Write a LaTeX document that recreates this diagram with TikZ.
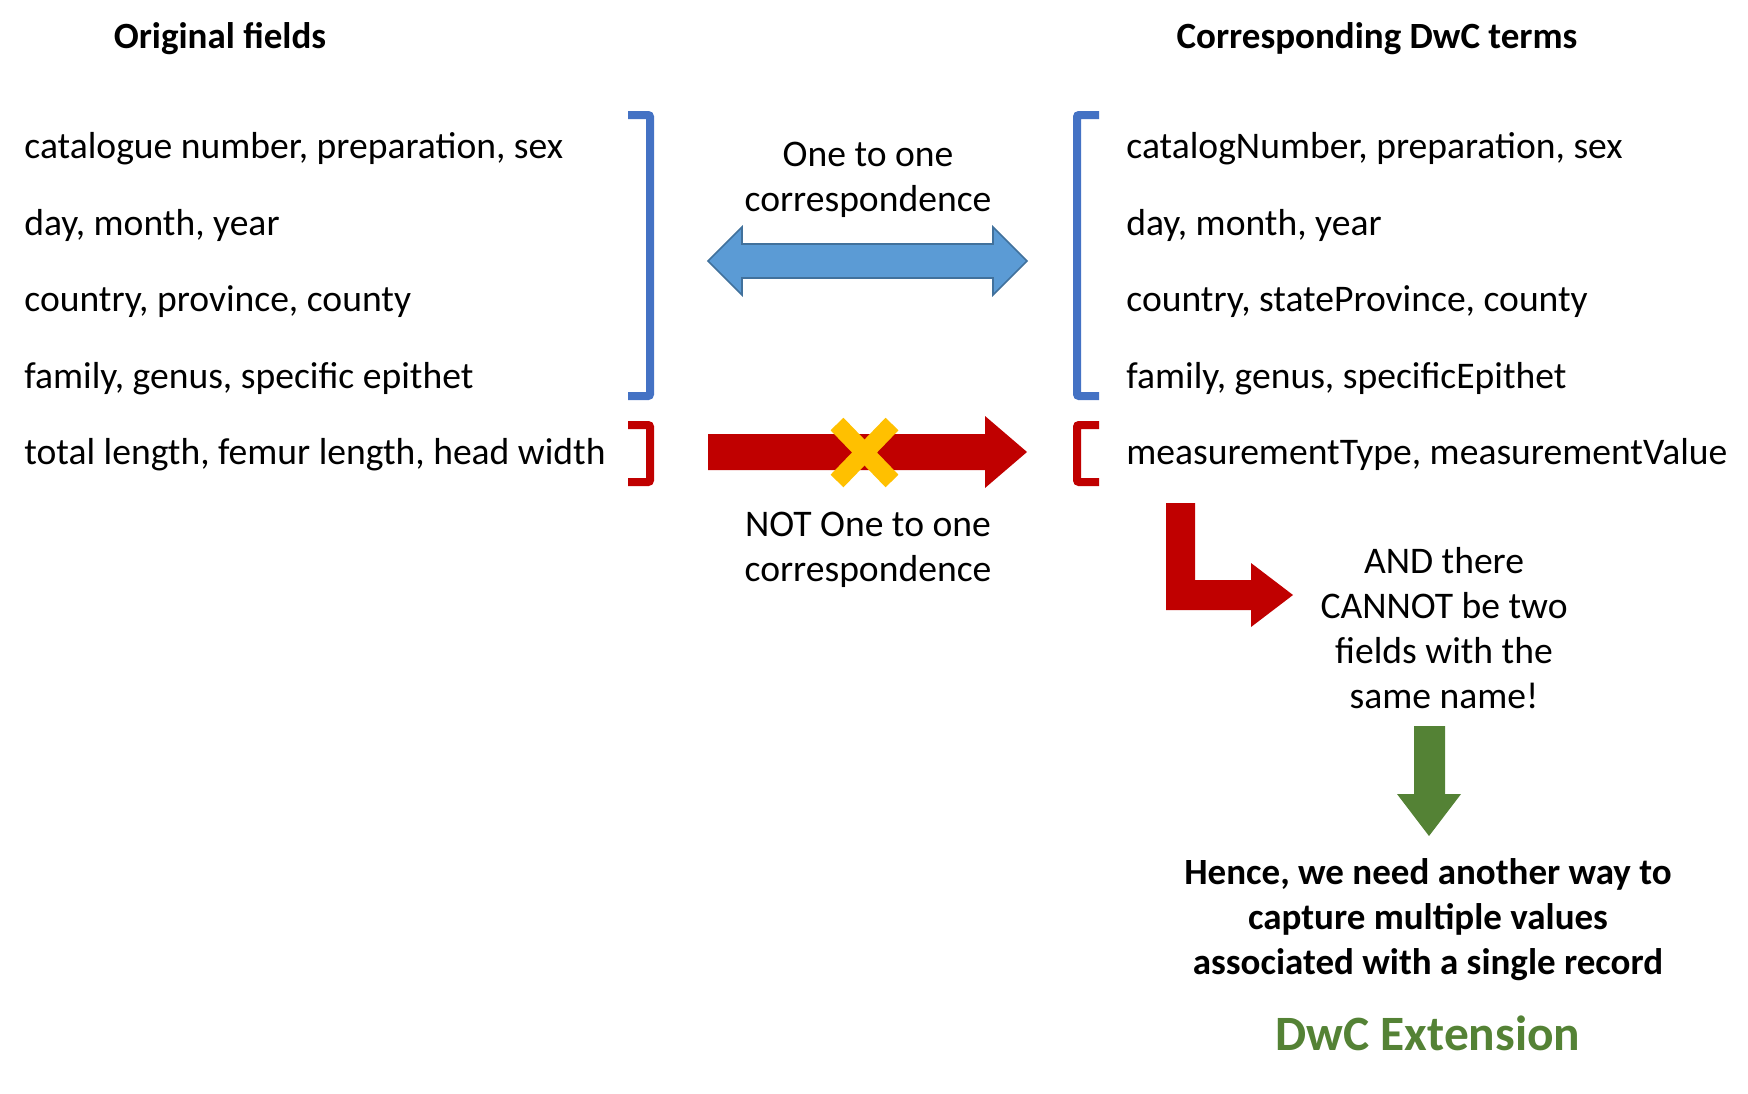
\documentclass[tikz,border=0pt]{standalone}
\usepackage{fontspec}
\setmainfont{Carlito}
\usepackage{tikz}
\usepackage{xcolor}
\usetikzlibrary{shapes,arrows,positioning,calc}
\definecolor{bracketBlue}{RGB}{68,114,196}
\definecolor{arrowBlue}{RGB}{91,155,213}
\definecolor{arrowBlueEdge}{RGB}{65,113,156}
\definecolor{darkRed}{RGB}{192,0,0}
\definecolor{crossYellow}{RGB}{255,192,0}
\definecolor{extGreen}{RGB}{84,130,53}

\begin{document}
\begin{tikzpicture}[x=0.5pt, y=-0.5pt,
    field/.style={anchor=base west, inner sep=0pt, font=\fontsize{18.8}{22.5}\selectfont},
    heading/.style={anchor=base, inner sep=0pt, font=\fontsize{18.5}{22.5}\selectfont\bfseries},
    note/.style={align=center, inner sep=0pt, font=\fontsize{18.8}{22.5}\selectfont},
    brace/.style={line width=4pt, rounded corners=1pt}]
    \useasboundingbox (0,0) rectangle (1748,1093);

    % column headings
    \node[heading] (orig) at (220,48) {Original fields};
    \node[heading] (dwc) at (1377,48) {Corresponding DwC terms};

    % original fields
    \node[field] (o1) at (24,158.5) {catalogue number, preparation, sex};
    \node[field] (o2) at (24,235) {day, month, year};
    \node[field] (o3) at (24,311.5) {country, province, county};
    \node[field] (o4) at (24,388) {family, genus, specific epithet};
    \node[field] (o5) at (24,464.5) {total length, femur length, head width};

    % darwin core terms
    \node[field] (d1) at (1126,158.5) {catalogNumber, preparation, sex};
    \node[field] (d2) at (1126,235) {day, month, year};
    \node[field] (d3) at (1126,311.5) {country, stateProvince, county};
    \node[field] (d4) at (1126,388) {family, genus, specificEpithet};
    \node[field] (d5) at (1126,464.5) {measurementType, measurementValue};

    % brackets
    \draw[brace, bracketBlue] (628,115) -- (650,115) -- (650,396) -- (628,396);
    \draw[brace, darkRed] (628,425) -- (650,425) -- (650,482) -- (628,482);
    \draw[brace, bracketBlue] (1099,115) -- (1077,115) -- (1077,396) -- (1099,396);
    \draw[brace, darkRed] (1099,425) -- (1077,425) -- (1077,482) -- (1099,482);

    % one to one
    \filldraw[fill=arrowBlue, draw=arrowBlueEdge, line width=0.8pt]
        (708,261) -- (742,227) -- (742,244) -- (993,244) -- (993,227) -- (1027,261)
        -- (993,295) -- (993,278) -- (742,278) -- (742,295) -- cycle;
    \node[note] (one) at (868,180) {One to one\\correspondence};

    % not one to one
    \fill[darkRed] (708,434) -- (985,434) -- (985,416) -- (1027,452) -- (985,488)
        -- (985,470) -- (708,470) -- cycle;
    \draw[crossYellow, line width=9pt] (837,424) -- (892,481) (837,481) -- (892,424);
    \node[note] (notone) at (868,549.5) {NOT One to one\\correspondence};

    % consequence
    \fill[darkRed] (1166,503) -- (1195,503) -- (1195,580) -- (1251,580) -- (1251,563)
        -- (1293,595) -- (1251,627) -- (1251,610) -- (1166,610) -- cycle;
    \node[note] (cannot) at (1444,628) {AND there\\CANNOT be two\\fields with the\\same name!};

    \fill[extGreen] (1414,726) -- (1445,726) -- (1445,794) -- (1461,794) -- (1429,836)
        -- (1397,794) -- (1414,794) -- cycle;
    \node[note, font=\fontsize{18.5}{22.5}\selectfont\bfseries] (hence) at (1428,919.5)
        {Hence, we need another way to\\capture multiple values\\associated with a single record};
    \node[inner sep=0pt, text=extGreen, font=\fontsize{24.7}{30}\selectfont\bfseries] (ext) at (1428,1033) {DwC Extension};
\end{tikzpicture}
\end{document}
